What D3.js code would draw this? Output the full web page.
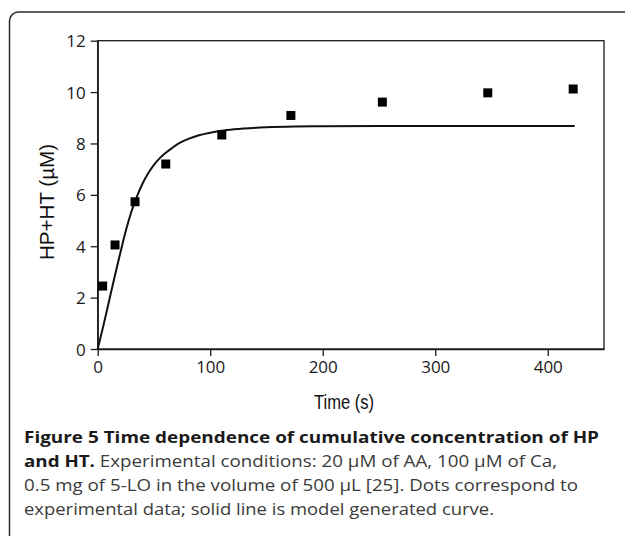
<!DOCTYPE html>
<html>
<head>
<meta charset="utf-8">
<script src="https://cdn.jsdelivr.net/npm/d3@7"></script>
<style>
  html, body { margin: 0; padding: 0; background: #fff; }
  svg { display: block; }
  .axis path, .axis line { stroke: #1a1a1a; stroke-width: 1.3px; }
  .axis-title { font-family: "Liberation Sans", Arial, sans-serif; font-size: 20px; fill: #111; }
  .caption { font-family: "Open Sans", sans-serif; fill: #3b3b3b; }
  .caption .bold { font-weight: bold; fill: #1a1a1a; }
</style>
</head>
<body>
<div id="chart"></div>
<script>
// Observed points (dots)
var obsTime = [4.4, 15.4, 33.2, 60.5, 110.3, 171.7, 253, 346.7, 422.6];
var obsConc = [2.45, 4.05, 5.73, 7.2, 8.33, 9.09, 9.61, 9.97, 10.12];

// Model curve
var modelTime = [0, 5, 10, 15, 20, 25, 30, 35, 40, 45, 50, 55, 60, 66, 72, 80, 90, 100, 115, 130, 150, 175, 200, 250, 300, 350, 424];
var modelConc = [0, 0.9, 1.85, 2.8, 3.72, 4.6, 5.35, 5.95, 6.45, 6.85, 7.17, 7.42, 7.62, 7.82, 8, 8.17, 8.32, 8.42, 8.52, 8.58, 8.63, 8.66, 8.67, 8.68, 8.68, 8.68, 8.68];

var xTicks = [0, 100, 200, 300, 400];
var yTicks = [0, 2, 4, 6, 8, 10, 12];

var captionLines = [
  [{ text: "Figure 5 Time dependence of cumulative concentration of HP", bold: true }],
  [{ text: "and HT.", bold: true }, { text: " Experimental conditions: 20 \u00b5M of AA, 100 \u00b5M of Ca,", bold: false }],
  [{ text: "0.5 mg of 5-LO in the volume of 500 \u00b5L [25]. Dots correspond to", bold: false }],
  [{ text: "experimental data; solid line is model generated curve.", bold: false }]
];
// measured width of each caption line in the reference
var captionWidths = [575, 533, 554, 470];

var width = 625;
var height = 536;
var plot = { left: 97.7, right: 604, top: 40.7, bottom: 349 };

var svg = d3.select("#chart")
  .append("svg")
  .attr("width", width)
  .attr("height", height);

// Outer frame with rounded corner (runs off the right and bottom edges)
svg.append("rect")
  .attr("x", 9.5)
  .attr("y", 12)
  .attr("width", 640)
  .attr("height", 560)
  .attr("rx", 9)
  .attr("fill", "none")
  .attr("stroke", "#2a2a2a")
  .attr("stroke-width", 1.5);

var xScale = d3.scaleLinear()
  .domain([0, 450])
  .range([plot.left, plot.right]);

var yScale = d3.scaleLinear()
  .domain([0, 12])
  .range([plot.bottom, plot.top]);

// Plot box
svg.append("rect")
  .attr("x", plot.left)
  .attr("y", plot.top)
  .attr("width", plot.right - plot.left)
  .attr("height", plot.bottom - plot.top)
  .attr("fill", "none")
  .attr("stroke", "#1a1a1a")
  .attr("stroke-width", 1.3);

var xAxis = d3.axisBottom(xScale)
  .tickValues(xTicks)
  .tickSize(7)
  .tickPadding(5)
  .tickSizeOuter(0);

var yAxis = d3.axisLeft(yScale)
  .tickValues(yTicks)
  .tickSize(7)
  .tickPadding(5)
  .tickSizeOuter(0);

svg.append("g")
  .attr("class", "x axis")
  .attr("transform", "translate(0," + plot.bottom + ")")
  .call(xAxis);

svg.append("g")
  .attr("class", "y axis")
  .attr("transform", "translate(" + plot.left + ",0)")
  .call(yAxis);

svg.selectAll(".axis .tick text")
  .style("font-family", "'Open Sans', sans-serif")
  .style("font-size", "17px")
  .attr("fill", "#1a1a1a");
svg.selectAll(".y.axis .tick text").attr("dy", "0.36em");

// Model curve
var line = d3.line()
  .x(function(d, i) { return xScale(modelTime[i]); })
  .y(function(d) { return yScale(d); })
  .curve(d3.curveMonotoneX);

svg.append("path")
  .datum(modelConc)
  .attr("d", line)
  .attr("fill", "none")
  .attr("stroke", "#111")
  .attr("stroke-width", 2);

// Observed points
var size = 9;
svg.append("g")
  .selectAll("rect")
  .data(obsConc)
  .enter()
  .append("rect")
  .attr("x", function(d, i) { return xScale(obsTime[i]) - size / 2; })
  .attr("y", function(d) { return yScale(d) - size / 2; })
  .attr("width", size)
  .attr("height", size)
  .attr("fill", "#000");

// Axis titles
svg.append("text")
  .attr("class", "axis-title")
  .attr("x", 344)
  .attr("y", 409)
  .attr("text-anchor", "middle")
  .attr("textLength", 60)
  .attr("lengthAdjust", "spacingAndGlyphs")
  .text("Time (s)");

svg.append("text")
  .attr("class", "axis-title")
  .attr("transform", "translate(53.5,202) rotate(-90)")
  .attr("text-anchor", "middle")
  .attr("textLength", 116)
  .attr("lengthAdjust", "spacingAndGlyphs")
  .text("HP+HT (\u00b5M)");

// Caption
var caption = svg.append("g").attr("class", "caption");
var lineTexts = caption.selectAll("text")
  .data(captionLines)
  .enter()
  .append("text")
  .attr("x", 24)
  .attr("y", function(d, i) { return 443 + i * 24; })
  .attr("textLength", function(d, i) { return captionWidths[i]; })
  .attr("lengthAdjust", "spacingAndGlyphs")
  .style("font-size", "15.5px");

lineTexts.selectAll("tspan")
  .data(function(d) { return d; })
  .enter()
  .append("tspan")
  .attr("class", function(d) { return d.bold ? "bold" : null; })
  .text(function(d) { return d.text; });
</script>
</body>
</html>
